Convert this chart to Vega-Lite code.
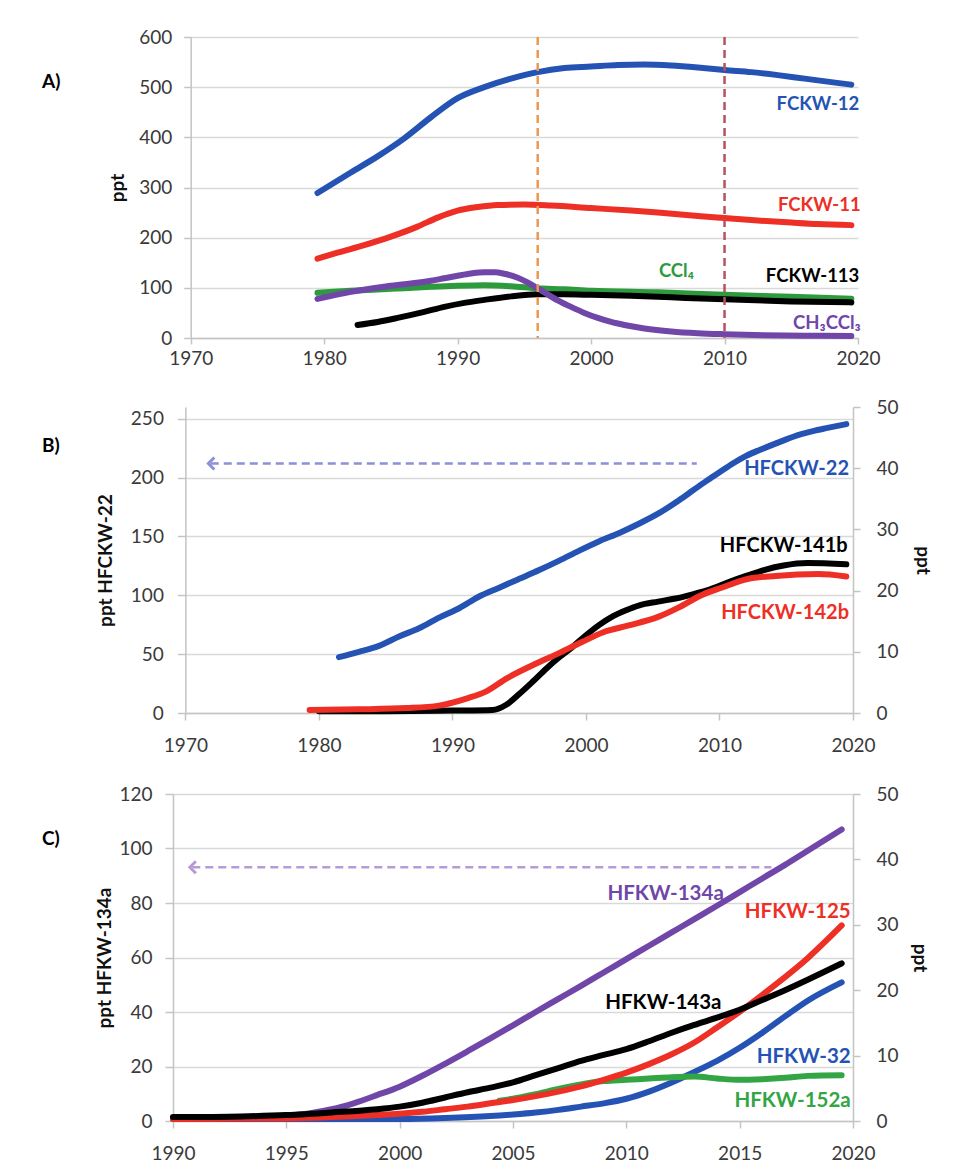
{
  "$schema": "https://vega.github.io/schema/vega-lite/v6.json",
  "background": "white",
  "padding": {"left": 42, "top": 28, "right": 5, "bottom": 5},
  "config": {
    "font": "Lato",
    "view": {"stroke": null},
    "axis": {
      "labelFont": "Lato", "labelFontSize": 19, "labelColor": "#3a3a3a",
      "titleFont": "Lato", "titleFontSize": 19, "titleFontWeight": "bold", "titleColor": "#111111",
      "domainColor": "#c4c4c4", "domainWidth": 1.5,
      "tickColor": "#c4c4c4", "tickWidth": 1.5,
      "gridColor": "#d9d9d9", "gridWidth": 1.5
    },
    "axisX": {"grid": false, "labelFlush": false},
    "axisY": {"grid": true},
    "title": {"font": "Lato", "fontSize": 19, "fontWeight": "bold", "color": "#000000"}
  },
  "columns": 1,
  "align": "none",
  "spacing": 30,
  "concat": [
    {
      "width": 685,
      "height": 301,
      "title": {"text": "A)", "anchor": "start", "frame": "group", "dx": -131, "dy": 77, "baseline": "middle"},
      "layer": [
        {
          "data": {"name": "a_lines"},
          "mark": {"type": "line", "strokeWidth": 6, "strokeCap": "round", "strokeJoin": "round", "interpolate": "monotone"},
          "encoding": {
            "x": {"field": "year", "type": "quantitative", "scale": {"domain": [1970, 2020], "range": [17.7, 685]},
                  "axis": {"values": [1970, 1980, 1990, 2000, 2010, 2020], "format": "d", "title": null, "tickSize": 6, "labelPadding": 5}},
            "y": {"field": "value", "type": "quantitative", "scale": {"domain": [0, 600]},
                  "axis": {"values": [0, 100, 200, 300, 400, 500, 600], "title": "ppt", "offset": -17.7, "tickSize": 7, "labelPadding": 12, "titlePadding": 11}},
            "color": {"field": "series", "type": "nominal", "legend": null,
                      "scale": {"domain": ["FCKW-12","FCKW-11","CCl₄","FCKW-113","CH₃CCl₃","HFCKW-22","HFCKW-141b","HFCKW-142b","HFKW-134a","HFKW-125","HFKW-143a","HFKW-32","HFKW-152a"],
                                "range": ["#2553b4","#ee2f25","#2e9a3e","#000000","#7046a9","#2553b4","#000000","#ee2f25","#7046a9","#ee2f25","#000000","#2553b4","#33a544"]}}
          }
        },
        {
          "data": {"name": "a_rules"},
          "mark": {"type": "rule", "strokeWidth": 2.5, "strokeDash": [8, 5]},
          "encoding": {
            "x": {"field": "year", "type": "quantitative"},
            "stroke": {"field": "event", "type": "nominal", "legend": null,
                       "scale": {"domain": ["1996", "2010"], "range": ["#f0974f", "#b5525c"]}}
          }
        },
        {
          "data": {"name": "a_labels"},
          "mark": {"type": "text", "align": "right", "baseline": "middle", "font": "Lato", "fontWeight": "bold", "fontSize": 18.5},
          "encoding": {
            "x": {"field": "year", "type": "quantitative"},
            "y": {"field": "value", "type": "quantitative"},
            "text": {"field": "series"},
            "color": {"field": "series", "type": "nominal", "legend": null,
                      "scale": {"domain": ["FCKW-12","FCKW-11","CCl₄","FCKW-113","CH₃CCl₃","HFCKW-22","HFCKW-141b","HFCKW-142b","HFKW-134a","HFKW-125","HFKW-143a","HFKW-32","HFKW-152a"],
                                "range": ["#2553b4","#ee2f25","#2e9a3e","#000000","#7046a9","#2553b4","#000000","#ee2f25","#7046a9","#ee2f25","#000000","#2553b4","#33a544"]}}
          }
        }
      ]
    },
    {
      "width": 680,
      "height": 306,
      "title": {"text": "B)", "anchor": "start", "frame": "group", "dx": -131, "dy": 71, "baseline": "middle"},
      "layer": [
        {
          "layer": [
            {
              "data": {"name": "b_left"},
              "mark": {"type": "line", "strokeWidth": 6, "strokeCap": "round", "strokeJoin": "round", "interpolate": "monotone"},
              "encoding": {
                "x": {"field": "year", "type": "quantitative", "scale": {"domain": [1970, 2020], "range": [12.4, 680]},
                      "axis": {"values": [1970, 1980, 1990, 2000, 2010, 2020], "format": "d", "title": null, "tickSize": 7, "labelPadding": 16}},
                "y": {"field": "value", "type": "quantitative", "scale": {"domain": [0, 250]},
                      "axis": {"orient": "left", "values": [0, 50, 100, 150, 200, 250], "title": "ppt HFCKW-22", "offset": -12.4, "tickSize": 8, "labelPadding": 14, "titlePadding": 15}},
                "color": {"field": "series", "type": "nominal", "legend": null,
                          "scale": {"domain": ["FCKW-12","FCKW-11","CCl₄","FCKW-113","CH₃CCl₃","HFCKW-22","HFCKW-141b","HFCKW-142b","HFKW-134a","HFKW-125","HFKW-143a","HFKW-32","HFKW-152a"],
                                    "range": ["#2553b4","#ee2f25","#2e9a3e","#000000","#7046a9","#2553b4","#000000","#ee2f25","#7046a9","#ee2f25","#000000","#2553b4","#33a544"]}}
              }
            },
            {
              "data": {"name": "b_arrow"},
              "mark": {"type": "rule", "color": "#8d8fd8", "strokeWidth": 2.5, "strokeDash": [8, 5]},
              "encoding": {
                "x": {"field": "x1", "type": "quantitative"},
                "x2": {"field": "x2"},
                "y": {"field": "y", "type": "quantitative"}
              }
            },
            {
              "data": {"name": "b_arrow"},
              "mark": {"type": "point", "shape": "M0.6,-1L-0.4,0L0.6,1", "filled": false, "color": "#8d8fd8", "strokeWidth": 3, "size": 144, "opacity": 1},
              "encoding": {
                "x": {"field": "x1", "type": "quantitative"},
                "y": {"field": "y", "type": "quantitative"}
              }
            },
            {
              "data": {"name": "b_labels"},
              "mark": {"type": "text", "align": "right", "baseline": "middle", "font": "Lato", "fontWeight": "bold", "fontSize": 20},
              "encoding": {
                "x": {"field": "year", "type": "quantitative"},
                "y": {"field": "value", "type": "quantitative"},
                "text": {"field": "series"},
                "color": {"field": "series", "type": "nominal", "legend": null,
                          "scale": {"domain": ["FCKW-12","FCKW-11","CCl₄","FCKW-113","CH₃CCl₃","HFCKW-22","HFCKW-141b","HFCKW-142b","HFKW-134a","HFKW-125","HFKW-143a","HFKW-32","HFKW-152a"],
                                    "range": ["#2553b4","#ee2f25","#2e9a3e","#000000","#7046a9","#2553b4","#000000","#ee2f25","#7046a9","#ee2f25","#000000","#2553b4","#33a544"]}}
              }
            }
          ]
        },
        {
          "data": {"name": "b_right"},
          "mark": {"type": "line", "strokeWidth": 6, "strokeCap": "round", "strokeJoin": "round", "interpolate": "monotone"},
          "encoding": {
            "x": {"field": "year", "type": "quantitative", "scale": {"domain": [1970, 2020], "range": [12.4, 680]},
                  "axis": {"values": [1970, 1980, 1990, 2000, 2010, 2020], "format": "d", "title": null, "tickSize": 7, "labelPadding": 16}},
            "y": {"field": "value", "type": "quantitative", "scale": {"domain": [0, 50]},
                  "axis": {"orient": "right", "values": [0, 10, 20, 30, 40, 50], "title": "ppt", "grid": false, "tickSize": 7, "labelPadding": 16, "titlePadding": 14}},
            "color": {"field": "series", "type": "nominal", "legend": null,
                      "scale": {"domain": ["FCKW-12","FCKW-11","CCl₄","FCKW-113","CH₃CCl₃","HFCKW-22","HFCKW-141b","HFCKW-142b","HFKW-134a","HFKW-125","HFKW-143a","HFKW-32","HFKW-152a"],
                                "range": ["#2553b4","#ee2f25","#2e9a3e","#000000","#7046a9","#2553b4","#000000","#ee2f25","#7046a9","#ee2f25","#000000","#2553b4","#33a544"]}}
          }
        }
      ],
      "resolve": {"scale": {"y": "independent"}}
    },
    {
      "width": 680,
      "height": 327,
      "title": {"text": "C)", "anchor": "start", "frame": "group", "dx": -131, "dy": 77, "baseline": "middle"},
      "layer": [
        {
          "layer": [
            {
              "data": {"name": "c_left"},
              "mark": {"type": "line", "strokeWidth": 6, "strokeCap": "round", "strokeJoin": "round", "interpolate": "monotone"},
              "encoding": {
                "x": {"field": "year", "type": "quantitative", "scale": {"domain": [1990, 2020]},
                      "axis": {"values": [1990, 1995, 2000, 2005, 2010, 2015, 2020], "format": "d", "title": null, "tickSize": 7, "labelPadding": 16}},
                "y": {"field": "value", "type": "quantitative", "scale": {"domain": [0, 120]},
                      "axis": {"orient": "left", "values": [0, 20, 40, 60, 80, 100, 120], "title": "ppt HFKW-134a", "tickSize": 8, "labelPadding": 13, "titlePadding": 4}},
                "color": {"field": "series", "type": "nominal", "legend": null,
                          "scale": {"domain": ["FCKW-12","FCKW-11","CCl₄","FCKW-113","CH₃CCl₃","HFCKW-22","HFCKW-141b","HFCKW-142b","HFKW-134a","HFKW-125","HFKW-143a","HFKW-32","HFKW-152a"],
                                    "range": ["#2553b4","#ee2f25","#2e9a3e","#000000","#7046a9","#2553b4","#000000","#ee2f25","#7046a9","#ee2f25","#000000","#2553b4","#33a544"]}}
              }
            },
            {
              "data": {"name": "c_arrow"},
              "mark": {"type": "rule", "color": "#b69bd8", "strokeWidth": 2.5, "strokeDash": [8, 5]},
              "encoding": {
                "x": {"field": "x1", "type": "quantitative"},
                "x2": {"field": "x2"},
                "y": {"field": "y", "type": "quantitative"}
              }
            },
            {
              "data": {"name": "c_arrow"},
              "mark": {"type": "point", "shape": "M0.6,-1L-0.4,0L0.6,1", "filled": false, "color": "#b69bd8", "strokeWidth": 3, "size": 144, "opacity": 1},
              "encoding": {
                "x": {"field": "x1", "type": "quantitative"},
                "y": {"field": "y", "type": "quantitative"}
              }
            },
            {
              "data": {"name": "c_labels"},
              "mark": {"type": "text", "align": "right", "baseline": "middle", "font": "Lato", "fontWeight": "bold", "fontSize": 20.5},
              "encoding": {
                "x": {"field": "year", "type": "quantitative"},
                "y": {"field": "value", "type": "quantitative"},
                "text": {"field": "series"},
                "color": {"field": "series", "type": "nominal", "legend": null,
                          "scale": {"domain": ["FCKW-12","FCKW-11","CCl₄","FCKW-113","CH₃CCl₃","HFCKW-22","HFCKW-141b","HFCKW-142b","HFKW-134a","HFKW-125","HFKW-143a","HFKW-32","HFKW-152a"],
                                    "range": ["#2553b4","#ee2f25","#2e9a3e","#000000","#7046a9","#2553b4","#000000","#ee2f25","#7046a9","#ee2f25","#000000","#2553b4","#33a544"]}}
              }
            }
          ]
        },
        {
          "data": {"name": "c_right"},
          "mark": {"type": "line", "strokeWidth": 6, "strokeCap": "round", "strokeJoin": "round", "interpolate": "monotone"},
          "encoding": {
            "x": {"field": "year", "type": "quantitative", "scale": {"domain": [1990, 2020]},
                  "axis": {"values": [1990, 1995, 2000, 2005, 2010, 2015, 2020], "format": "d", "title": null, "tickSize": 7, "labelPadding": 16}},
            "y": {"field": "value", "type": "quantitative", "scale": {"domain": [0, 50]},
                  "axis": {"orient": "right", "values": [0, 10, 20, 30, 40, 50], "title": "ppt", "grid": false, "tickSize": 7, "labelPadding": 16, "titlePadding": 11}},
            "color": {"field": "series", "type": "nominal", "legend": null,
                      "scale": {"domain": ["FCKW-12","FCKW-11","CCl₄","FCKW-113","CH₃CCl₃","HFCKW-22","HFCKW-141b","HFCKW-142b","HFKW-134a","HFKW-125","HFKW-143a","HFKW-32","HFKW-152a"],
                                "range": ["#2553b4","#ee2f25","#2e9a3e","#000000","#7046a9","#2553b4","#000000","#ee2f25","#7046a9","#ee2f25","#000000","#2553b4","#33a544"]}}
          }
        }
      ],
      "resolve": {"scale": {"y": "independent"}}
    }
  ],
  "datasets": {
    "a_lines": [
      {"series": "FCKW-12", "year": 1979.5, "value": 289},
      {"series": "FCKW-12", "year": 1982, "value": 330},
      {"series": "FCKW-12", "year": 1984, "value": 362},
      {"series": "FCKW-12", "year": 1986, "value": 398},
      {"series": "FCKW-12", "year": 1988, "value": 440},
      {"series": "FCKW-12", "year": 1990, "value": 478},
      {"series": "FCKW-12", "year": 1992, "value": 500},
      {"series": "FCKW-12", "year": 1994, "value": 517},
      {"series": "FCKW-12", "year": 1996, "value": 530},
      {"series": "FCKW-12", "year": 1998, "value": 538},
      {"series": "FCKW-12", "year": 2000, "value": 541},
      {"series": "FCKW-12", "year": 2002, "value": 544},
      {"series": "FCKW-12", "year": 2004, "value": 545},
      {"series": "FCKW-12", "year": 2006, "value": 543},
      {"series": "FCKW-12", "year": 2008, "value": 539},
      {"series": "FCKW-12", "year": 2010, "value": 534},
      {"series": "FCKW-12", "year": 2012, "value": 530},
      {"series": "FCKW-12", "year": 2014, "value": 524},
      {"series": "FCKW-12", "year": 2016, "value": 517},
      {"series": "FCKW-12", "year": 2018, "value": 510},
      {"series": "FCKW-12", "year": 2019.5, "value": 505},
      {"series": "FCKW-11", "year": 1979.5, "value": 158},
      {"series": "FCKW-11", "year": 1981, "value": 170},
      {"series": "FCKW-11", "year": 1983, "value": 185},
      {"series": "FCKW-11", "year": 1985, "value": 202},
      {"series": "FCKW-11", "year": 1987, "value": 222},
      {"series": "FCKW-11", "year": 1988.5, "value": 240},
      {"series": "FCKW-11", "year": 1990, "value": 254},
      {"series": "FCKW-11", "year": 1991.5, "value": 261},
      {"series": "FCKW-11", "year": 1993, "value": 265},
      {"series": "FCKW-11", "year": 1995, "value": 266},
      {"series": "FCKW-11", "year": 1997, "value": 264},
      {"series": "FCKW-11", "year": 2000, "value": 259},
      {"series": "FCKW-11", "year": 2003, "value": 254},
      {"series": "FCKW-11", "year": 2005, "value": 250},
      {"series": "FCKW-11", "year": 2008, "value": 243},
      {"series": "FCKW-11", "year": 2010, "value": 239},
      {"series": "FCKW-11", "year": 2012, "value": 235},
      {"series": "FCKW-11", "year": 2015, "value": 230},
      {"series": "FCKW-11", "year": 2017, "value": 227},
      {"series": "FCKW-11", "year": 2019.5, "value": 225},
      {"series": "CCl₄", "year": 1979.5, "value": 90},
      {"series": "CCl₄", "year": 1982, "value": 94},
      {"series": "CCl₄", "year": 1985, "value": 98},
      {"series": "CCl₄", "year": 1988, "value": 102},
      {"series": "CCl₄", "year": 1990, "value": 104},
      {"series": "CCl₄", "year": 1992, "value": 105},
      {"series": "CCl₄", "year": 1994, "value": 103},
      {"series": "CCl₄", "year": 1996, "value": 99},
      {"series": "CCl₄", "year": 1998, "value": 97},
      {"series": "CCl₄", "year": 2000, "value": 94},
      {"series": "CCl₄", "year": 2005, "value": 91},
      {"series": "CCl₄", "year": 2010, "value": 86},
      {"series": "CCl₄", "year": 2015, "value": 82},
      {"series": "CCl₄", "year": 2019.5, "value": 78},
      {"series": "FCKW-113", "year": 1982.5, "value": 26},
      {"series": "FCKW-113", "year": 1984, "value": 32},
      {"series": "FCKW-113", "year": 1985.5, "value": 40},
      {"series": "FCKW-113", "year": 1987.5, "value": 52},
      {"series": "FCKW-113", "year": 1989, "value": 62},
      {"series": "FCKW-113", "year": 1990.5, "value": 70},
      {"series": "FCKW-113", "year": 1992, "value": 76},
      {"series": "FCKW-113", "year": 1994, "value": 83},
      {"series": "FCKW-113", "year": 1996, "value": 87},
      {"series": "FCKW-113", "year": 1998, "value": 87},
      {"series": "FCKW-113", "year": 2000, "value": 86},
      {"series": "FCKW-113", "year": 2003, "value": 84},
      {"series": "FCKW-113", "year": 2006, "value": 81},
      {"series": "FCKW-113", "year": 2010, "value": 77},
      {"series": "FCKW-113", "year": 2015, "value": 73},
      {"series": "FCKW-113", "year": 2019.5, "value": 71},
      {"series": "CH₃CCl₃", "year": 1979.5, "value": 78},
      {"series": "CH₃CCl₃", "year": 1982, "value": 92},
      {"series": "CH₃CCl₃", "year": 1985, "value": 104},
      {"series": "CH₃CCl₃", "year": 1988, "value": 114},
      {"series": "CH₃CCl₃", "year": 1989, "value": 119},
      {"series": "CH₃CCl₃", "year": 1990, "value": 124},
      {"series": "CH₃CCl₃", "year": 1991, "value": 128.5},
      {"series": "CH₃CCl₃", "year": 1992, "value": 131},
      {"series": "CH₃CCl₃", "year": 1992.8, "value": 131},
      {"series": "CH₃CCl₃", "year": 1993.5, "value": 128},
      {"series": "CH₃CCl₃", "year": 1994.5, "value": 120},
      {"series": "CH₃CCl₃", "year": 1995.5, "value": 107},
      {"series": "CH₃CCl₃", "year": 1996.5, "value": 91},
      {"series": "CH₃CCl₃", "year": 1997.5, "value": 75},
      {"series": "CH₃CCl₃", "year": 1998.5, "value": 62},
      {"series": "CH₃CCl₃", "year": 1999.5, "value": 50},
      {"series": "CH₃CCl₃", "year": 2000.5, "value": 40},
      {"series": "CH₃CCl₃", "year": 2001.5, "value": 32},
      {"series": "CH₃CCl₃", "year": 2002.5, "value": 26},
      {"series": "CH₃CCl₃", "year": 2004, "value": 19},
      {"series": "CH₃CCl₃", "year": 2006, "value": 13},
      {"series": "CH₃CCl₃", "year": 2008, "value": 9.5},
      {"series": "CH₃CCl₃", "year": 2010, "value": 7.5},
      {"series": "CH₃CCl₃", "year": 2013, "value": 5.5},
      {"series": "CH₃CCl₃", "year": 2016, "value": 4.5},
      {"series": "CH₃CCl₃", "year": 2019.5, "value": 4}
    ],
    "a_rules": [
      {"event": "1996", "year": 1996},
      {"event": "2010", "year": 2010}
    ],
    "a_labels": [
      {"series": "FCKW-12", "year": 2020.1, "value": 466},
      {"series": "FCKW-11", "year": 2020.2, "value": 265},
      {"series": "CCl₄", "year": 2007.7, "value": 134},
      {"series": "FCKW-113", "year": 2020.1, "value": 123},
      {"series": "CH₃CCl₃", "year": 2020.2, "value": 30}
    ],
    "b_left": [
      {"series": "HFCKW-22", "year": 1981.5, "value": 47.5},
      {"series": "HFCKW-22", "year": 1983, "value": 52},
      {"series": "HFCKW-22", "year": 1984.5, "value": 57},
      {"series": "HFCKW-22", "year": 1986, "value": 65},
      {"series": "HFCKW-22", "year": 1987.5, "value": 72},
      {"series": "HFCKW-22", "year": 1989, "value": 81},
      {"series": "HFCKW-22", "year": 1990.5, "value": 89},
      {"series": "HFCKW-22", "year": 1992, "value": 99},
      {"series": "HFCKW-22", "year": 1993.5, "value": 106.5},
      {"series": "HFCKW-22", "year": 1995, "value": 114},
      {"series": "HFCKW-22", "year": 1996.5, "value": 121.5},
      {"series": "HFCKW-22", "year": 1998, "value": 129.5},
      {"series": "HFCKW-22", "year": 1999.5, "value": 138},
      {"series": "HFCKW-22", "year": 2001, "value": 146},
      {"series": "HFCKW-22", "year": 2002.5, "value": 153},
      {"series": "HFCKW-22", "year": 2004, "value": 161},
      {"series": "HFCKW-22", "year": 2005.5, "value": 170},
      {"series": "HFCKW-22", "year": 2007, "value": 181},
      {"series": "HFCKW-22", "year": 2008, "value": 189},
      {"series": "HFCKW-22", "year": 2009, "value": 197},
      {"series": "HFCKW-22", "year": 2010, "value": 204.5},
      {"series": "HFCKW-22", "year": 2011, "value": 212},
      {"series": "HFCKW-22", "year": 2012, "value": 218.5},
      {"series": "HFCKW-22", "year": 2013, "value": 223.5},
      {"series": "HFCKW-22", "year": 2014, "value": 228},
      {"series": "HFCKW-22", "year": 2015, "value": 232.5},
      {"series": "HFCKW-22", "year": 2016, "value": 236.5},
      {"series": "HFCKW-22", "year": 2017, "value": 239.5},
      {"series": "HFCKW-22", "year": 2018, "value": 242},
      {"series": "HFCKW-22", "year": 2019.5, "value": 245.5}
    ],
    "b_right": [
      {"series": "HFCKW-141b", "year": 1980, "value": 0.3},
      {"series": "HFCKW-141b", "year": 1985, "value": 0.3},
      {"series": "HFCKW-141b", "year": 1990, "value": 0.4},
      {"series": "HFCKW-141b", "year": 1993, "value": 0.5},
      {"series": "HFCKW-141b", "year": 1994, "value": 1.3},
      {"series": "HFCKW-141b", "year": 1995, "value": 3.1},
      {"series": "HFCKW-141b", "year": 1996, "value": 5.1},
      {"series": "HFCKW-141b", "year": 1997, "value": 7.2},
      {"series": "HFCKW-141b", "year": 1998, "value": 9.1},
      {"series": "HFCKW-141b", "year": 1999, "value": 10.8},
      {"series": "HFCKW-141b", "year": 2000, "value": 12.7},
      {"series": "HFCKW-141b", "year": 2001, "value": 14.4},
      {"series": "HFCKW-141b", "year": 2002, "value": 15.8},
      {"series": "HFCKW-141b", "year": 2003, "value": 16.8},
      {"series": "HFCKW-141b", "year": 2004, "value": 17.6},
      {"series": "HFCKW-141b", "year": 2005.4, "value": 18.2},
      {"series": "HFCKW-141b", "year": 2006.7, "value": 18.7},
      {"series": "HFCKW-141b", "year": 2008, "value": 19.4},
      {"series": "HFCKW-141b", "year": 2009.4, "value": 20.3},
      {"series": "HFCKW-141b", "year": 2010.7, "value": 21.4},
      {"series": "HFCKW-141b", "year": 2012, "value": 22.4},
      {"series": "HFCKW-141b", "year": 2013.4, "value": 23.4},
      {"series": "HFCKW-141b", "year": 2014.8, "value": 24.1},
      {"series": "HFCKW-141b", "year": 2016.6, "value": 24.5},
      {"series": "HFCKW-141b", "year": 2019.5, "value": 24.3},
      {"series": "HFCKW-142b", "year": 1979.3, "value": 0.5},
      {"series": "HFCKW-142b", "year": 1983, "value": 0.6},
      {"series": "HFCKW-142b", "year": 1986.6, "value": 0.8},
      {"series": "HFCKW-142b", "year": 1989, "value": 1.2},
      {"series": "HFCKW-142b", "year": 1990, "value": 1.7},
      {"series": "HFCKW-142b", "year": 1991.1, "value": 2.4},
      {"series": "HFCKW-142b", "year": 1992.5, "value": 3.5},
      {"series": "HFCKW-142b", "year": 1994.1, "value": 5.7},
      {"series": "HFCKW-142b", "year": 1996, "value": 7.8},
      {"series": "HFCKW-142b", "year": 1997.9, "value": 9.7},
      {"series": "HFCKW-142b", "year": 1999.7, "value": 11.6},
      {"series": "HFCKW-142b", "year": 2001.3, "value": 13.2},
      {"series": "HFCKW-142b", "year": 2003.2, "value": 14.3},
      {"series": "HFCKW-142b", "year": 2005.4, "value": 15.7},
      {"series": "HFCKW-142b", "year": 2007, "value": 17.3},
      {"series": "HFCKW-142b", "year": 2008.6, "value": 19.2},
      {"series": "HFCKW-142b", "year": 2010.2, "value": 20.5},
      {"series": "HFCKW-142b", "year": 2012.1, "value": 21.9},
      {"series": "HFCKW-142b", "year": 2014.2, "value": 22.4},
      {"series": "HFCKW-142b", "year": 2017.4, "value": 22.7},
      {"series": "HFCKW-142b", "year": 2019.5, "value": 22.3}
    ],
    "b_arrow": [
      {"x1": 1971.9, "x2": 2008.3, "y": 212}
    ],
    "b_labels": [
      {"series": "HFCKW-22", "year": 2019.7, "value": 207},
      {"series": "HFCKW-141b", "year": 2019.6, "value": 141.6},
      {"series": "HFCKW-142b", "year": 2019.7, "value": 85}
    ],
    "c_left": [
      {"series": "HFKW-134a", "year": 1990, "value": 1.2},
      {"series": "HFKW-134a", "year": 1993, "value": 1.4},
      {"series": "HFKW-134a", "year": 1995, "value": 2.0},
      {"series": "HFKW-134a", "year": 1996, "value": 2.8},
      {"series": "HFKW-134a", "year": 1997, "value": 4.3},
      {"series": "HFKW-134a", "year": 1998, "value": 6.6},
      {"series": "HFKW-134a", "year": 1999, "value": 9.5},
      {"series": "HFKW-134a", "year": 2000, "value": 12.6},
      {"series": "HFKW-134a", "year": 2001, "value": 16.6},
      {"series": "HFKW-134a", "year": 2002, "value": 21.0},
      {"series": "HFKW-134a", "year": 2003, "value": 25.6},
      {"series": "HFKW-134a", "year": 2004, "value": 30.3},
      {"series": "HFKW-134a", "year": 2005, "value": 35.1},
      {"series": "HFKW-134a", "year": 2006, "value": 40.0},
      {"series": "HFKW-134a", "year": 2007, "value": 44.8},
      {"series": "HFKW-134a", "year": 2008, "value": 49.6},
      {"series": "HFKW-134a", "year": 2009, "value": 54.5},
      {"series": "HFKW-134a", "year": 2010, "value": 59.4},
      {"series": "HFKW-134a", "year": 2011, "value": 64.3},
      {"series": "HFKW-134a", "year": 2012, "value": 69.2},
      {"series": "HFKW-134a", "year": 2013, "value": 74.1},
      {"series": "HFKW-134a", "year": 2014, "value": 79.0},
      {"series": "HFKW-134a", "year": 2015, "value": 84.0},
      {"series": "HFKW-134a", "year": 2016, "value": 89.0},
      {"series": "HFKW-134a", "year": 2017, "value": 94.0},
      {"series": "HFKW-134a", "year": 2018, "value": 99.2},
      {"series": "HFKW-134a", "year": 2019.5, "value": 107}
    ],
    "c_right": [
      {"series": "HFKW-32", "year": 1990, "value": 0.3},
      {"series": "HFKW-32", "year": 1995, "value": 0.3},
      {"series": "HFKW-32", "year": 2000, "value": 0.3},
      {"series": "HFKW-32", "year": 2002, "value": 0.45},
      {"series": "HFKW-32", "year": 2004, "value": 0.75},
      {"series": "HFKW-32", "year": 2005, "value": 1.0},
      {"series": "HFKW-32", "year": 2006, "value": 1.3},
      {"series": "HFKW-32", "year": 2007, "value": 1.7},
      {"series": "HFKW-32", "year": 2008, "value": 2.2},
      {"series": "HFKW-32", "year": 2009, "value": 2.7},
      {"series": "HFKW-32", "year": 2010, "value": 3.4},
      {"series": "HFKW-32", "year": 2011, "value": 4.5},
      {"series": "HFKW-32", "year": 2012, "value": 5.9},
      {"series": "HFKW-32", "year": 2013, "value": 7.5},
      {"series": "HFKW-32", "year": 2014, "value": 9.2},
      {"series": "HFKW-32", "year": 2015, "value": 11.2},
      {"series": "HFKW-32", "year": 2016, "value": 13.5},
      {"series": "HFKW-32", "year": 2017, "value": 16.0},
      {"series": "HFKW-32", "year": 2018, "value": 18.4},
      {"series": "HFKW-32", "year": 2019.5, "value": 21.2},
      {"series": "HFKW-152a", "year": 2004.4, "value": 3.1},
      {"series": "HFKW-152a", "year": 2005, "value": 3.4},
      {"series": "HFKW-152a", "year": 2006, "value": 4.1},
      {"series": "HFKW-152a", "year": 2007, "value": 4.9},
      {"series": "HFKW-152a", "year": 2008, "value": 5.6},
      {"series": "HFKW-152a", "year": 2009, "value": 6.1},
      {"series": "HFKW-152a", "year": 2010, "value": 6.3},
      {"series": "HFKW-152a", "year": 2011, "value": 6.5},
      {"series": "HFKW-152a", "year": 2012, "value": 6.7},
      {"series": "HFKW-152a", "year": 2013, "value": 6.8},
      {"series": "HFKW-152a", "year": 2014, "value": 6.5},
      {"series": "HFKW-152a", "year": 2015, "value": 6.3},
      {"series": "HFKW-152a", "year": 2016, "value": 6.4},
      {"series": "HFKW-152a", "year": 2017, "value": 6.6},
      {"series": "HFKW-152a", "year": 2018, "value": 6.9},
      {"series": "HFKW-152a", "year": 2019.5, "value": 7.0},
      {"series": "HFKW-125", "year": 1990, "value": 0.3},
      {"series": "HFKW-125", "year": 1995, "value": 0.4},
      {"series": "HFKW-125", "year": 1997, "value": 0.6},
      {"series": "HFKW-125", "year": 1999, "value": 0.9},
      {"series": "HFKW-125", "year": 2000, "value": 1.1},
      {"series": "HFKW-125", "year": 2001, "value": 1.4},
      {"series": "HFKW-125", "year": 2002, "value": 1.8},
      {"series": "HFKW-125", "year": 2003, "value": 2.2},
      {"series": "HFKW-125", "year": 2004, "value": 2.7},
      {"series": "HFKW-125", "year": 2005, "value": 3.2},
      {"series": "HFKW-125", "year": 2006, "value": 3.8},
      {"series": "HFKW-125", "year": 2007, "value": 4.5},
      {"series": "HFKW-125", "year": 2008, "value": 5.3},
      {"series": "HFKW-125", "year": 2009, "value": 6.3},
      {"series": "HFKW-125", "year": 2010, "value": 7.4},
      {"series": "HFKW-125", "year": 2011, "value": 8.7},
      {"series": "HFKW-125", "year": 2012, "value": 10.2},
      {"series": "HFKW-125", "year": 2013, "value": 12.0},
      {"series": "HFKW-125", "year": 2014, "value": 14.3},
      {"series": "HFKW-125", "year": 2015, "value": 16.7},
      {"series": "HFKW-125", "year": 2016, "value": 19.3},
      {"series": "HFKW-125", "year": 2017, "value": 22.0},
      {"series": "HFKW-125", "year": 2018, "value": 24.9},
      {"series": "HFKW-125", "year": 2019.5, "value": 29.9},
      {"series": "HFKW-143a", "year": 1990, "value": 0.6},
      {"series": "HFKW-143a", "year": 1993, "value": 0.7},
      {"series": "HFKW-143a", "year": 1995, "value": 0.9},
      {"series": "HFKW-143a", "year": 1997, "value": 1.3},
      {"series": "HFKW-143a", "year": 1999, "value": 1.8},
      {"series": "HFKW-143a", "year": 2000, "value": 2.2},
      {"series": "HFKW-143a", "year": 2001, "value": 2.8},
      {"series": "HFKW-143a", "year": 2002, "value": 3.6},
      {"series": "HFKW-143a", "year": 2003, "value": 4.4},
      {"series": "HFKW-143a", "year": 2004, "value": 5.1},
      {"series": "HFKW-143a", "year": 2005, "value": 5.9},
      {"series": "HFKW-143a", "year": 2006, "value": 7.0},
      {"series": "HFKW-143a", "year": 2007, "value": 8.1},
      {"series": "HFKW-143a", "year": 2008, "value": 9.2},
      {"series": "HFKW-143a", "year": 2009, "value": 10.1},
      {"series": "HFKW-143a", "year": 2010, "value": 11.0},
      {"series": "HFKW-143a", "year": 2011, "value": 12.2},
      {"series": "HFKW-143a", "year": 2012, "value": 13.5},
      {"series": "HFKW-143a", "year": 2013, "value": 14.7},
      {"series": "HFKW-143a", "year": 2014, "value": 15.8},
      {"series": "HFKW-143a", "year": 2015, "value": 17.0},
      {"series": "HFKW-143a", "year": 2016, "value": 18.5},
      {"series": "HFKW-143a", "year": 2017, "value": 20.0},
      {"series": "HFKW-143a", "year": 2018, "value": 21.6},
      {"series": "HFKW-143a", "year": 2019.5, "value": 24.1}
    ],
    "c_arrow": [
      {"x1": 1990.85, "x2": 2016.4, "y": 93.1}
    ],
    "c_labels": [
      {"series": "HFKW-134a", "year": 2014.3, "value": 83.3},
      {"series": "HFKW-125", "year": 2019.9, "value": 76.6},
      {"series": "HFKW-143a", "year": 2014.2, "value": 43.2},
      {"series": "HFKW-32", "year": 2019.9, "value": 23.4},
      {"series": "HFKW-152a", "year": 2019.9, "value": 7.45}
    ]
  }
}
